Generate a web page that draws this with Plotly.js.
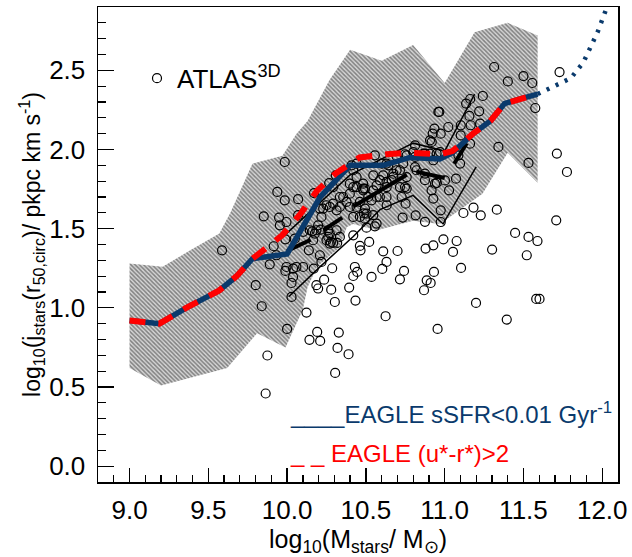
<!DOCTYPE html>
<html><head><meta charset="utf-8">
<script src="https://cdn.plot.ly/plotly-3.0.1.min.js"></script>
<style>html,body{margin:0;padding:0;background:#fff}#plot{width:632px;height:557px}</style>
</head><body><div id="plot"></div>
<script>
// ATLAS3D galaxies: log10(Mstars), log10(j_stars)
const atlasX = [9.587,9.985,9.938,9.985,10.070,9.852,9.949,9.996,9.801,9.839,10.000,9.875,9.864,9.915,9.890,9.932,9.989,9.996,9.989,10.038,10.059,10.102,10.028,10.038,10.028,10.138,10.161,10.186,10.214,10.171,10.208,10.267,10.309,10.292,10.261,10.278,10.292,10.318,10.261,10.208,10.218,10.169,10.286,10.186,10.197,10.235,10.280,10.303,10.394,10.434,10.123,10.191,10.142,10.210,10.328,10.320,10.390,10.305,10.420,10.430,10.420,10.445,10.466,10.462,10.521,10.504,10.494,10.536,10.610,10.631,10.604,10.701,10.742,10.716,10.625,10.879,10.932,10.886,10.911,10.869,10.955,10.992,11.076,11.053,11.104,11.199,11.301,11.394,11.447,11.532,11.589,11.521,11.581,11.602,11.708,11.712,11.532,11.341,11.331,11.229,11.183,11.119,11.072,11.098,10.975,10.975,10.816,10.733,10.568,10.557,10.752,10.748,10.917,10.928,11.028,11.002,10.939,10.822,10.812,10.865,10.928,10.907,10.924,10.975,11.023,11.102,11.102,11.165,11.225,11.161,11.087,10.557,10.695,10.420,10.441,10.398,10.441,10.483,10.547,10.610,10.674,10.695,10.631,10.568,10.483,10.515,10.568,10.631,10.716,10.759,10.462,10.441,10.398,10.494,10.504,10.462,10.420,10.377,10.335,10.292,10.314,10.250,10.218,10.398,10.547,10.631,10.441,10.600,10.759,10.737,10.409,10.642,10.748,10.801,10.875,10.949,10.918,10.960,10.875,10.716,10.494,10.420,10.356,10.335,10.536,10.589,10.632,10.589,10.674,10.727,10.632,10.547,10.487,10.271,10.229,10.197,10.271,10.314,10.335,10.250,10.144,10.102,10.176,10.165,10.271,10.049,10.070,9.954,10.875,10.928,11.314,11.401,11.500,11.556,11.575,11.729,11.776,11.242,11.162,11.136,11.219,11.157,10.935,10.966,10.812,10.971,10.907,10.812,10.875,10.950,10.759,10.664,10.483];
const atlasY = [1.363,1.921,1.732,1.679,1.686,1.578,1.570,1.542,1.143,1.010,0.867,0.699,0.459,1.389,1.275,1.332,1.433,1.258,1.233,1.248,1.258,1.258,1.157,1.195,1.069,1.363,1.483,1.490,1.494,1.725,1.627,1.788,1.837,1.763,1.448,1.416,1.410,1.410,1.490,1.332,1.290,1.248,1.250,1.143,1.122,1.178,1.115,1.037,1.128,1.046,0.970,0.848,0.798,0.791,0.844,0.747,0.707,0.589,1.458,1.258,1.201,1.227,1.363,1.391,1.416,1.506,1.563,1.195,1.357,1.290,1.246,1.359,1.233,1.180,0.947,1.374,1.227,1.174,1.157,1.111,0.867,1.433,1.422,1.353,1.252,1.031,1.368,0.926,1.473,1.448,1.422,1.332,1.056,1.056,1.553,1.974,1.915,2.016,1.620,1.584,1.633,1.599,1.816,1.911,1.616,1.542,1.584,1.570,1.532,1.515,1.658,1.763,1.742,1.690,1.742,1.805,1.784,1.869,1.953,1.974,1.932,2.058,2.100,2.100,2.142,2.089,2.153,2.153,2.163,2.037,1.963,1.963,1.957,1.869,1.826,1.784,1.763,1.784,1.837,1.837,1.847,1.869,1.795,1.774,1.742,1.700,1.700,1.700,1.763,1.753,1.669,1.637,1.637,1.627,1.595,1.574,1.574,1.669,1.700,1.658,1.616,1.648,1.574,1.721,1.742,1.911,1.911,1.911,1.826,1.911,1.900,1.900,1.970,1.984,1.974,1.974,2.048,2.237,1.806,1.869,1.753,1.763,1.700,1.637,1.679,1.700,1.763,1.806,1.827,1.700,1.648,1.585,1.596,1.637,1.627,1.521,1.469,1.490,1.448,1.427,1.490,1.480,1.469,1.427,1.406,1.437,1.585,1.521,1.543,1.395,2.521,2.430,2.464,2.420,2.262,2.489,1.858,2.338,2.319,2.290,2.241,2.212,2.132,2.237,2.026,1.984,1.974,1.889,1.848,1.789,1.963,1.806,1.753];

// EAGLE scatter band (upper and lower edges)
const bandUpperX = [9.0,9.21,9.38,9.57,9.64,9.78,9.97,10.06,10.13,10.27,10.40,10.60,10.80,11.00,11.19,11.40,11.59];
const bandUpperY = [1.28,1.26,1.36,1.47,1.60,1.91,1.96,2.10,2.18,2.44,2.63,2.56,2.66,2.42,2.74,2.80,2.72];
const bandLowerX = [9.0,9.20,9.62,9.81,9.99,10.10,10.13,10.19,10.33,10.38,10.42,10.57,10.80,10.97,11.24,11.40,11.59];
const bandLowerY = [0.62,0.51,0.62,0.84,0.75,0.99,1.13,1.26,1.38,1.51,1.53,1.49,1.55,1.53,1.72,1.98,1.79];

// EAGLE sSFR<0.01 Gyr^-1 median
const blueX = [9.0,9.19,9.36,9.57,9.68,9.78,10.0,10.12,10.21,10.40,10.61,10.78,10.97,11.05,11.18,11.29,11.38,11.48,11.59];
const blueY = [0.92,0.90,1.00,1.11,1.20,1.31,1.34,1.55,1.70,1.90,1.90,1.95,1.94,1.98,2.10,2.18,2.29,2.32,2.35];
const blueExtX = [11.59,11.70,11.80,11.88,11.97,12.03];
const blueExtY = [2.35,2.40,2.45,2.55,2.74,2.90];

// EAGLE (u*-r*)>2 median
const redX = [9.0,9.19,9.36,9.57,9.68,9.78,9.87,9.97,10.09,10.19,10.31,10.46,10.63,10.78,10.97,11.05,11.18,11.29,11.38,11.48,11.59];
const redY = [0.92,0.90,1.00,1.11,1.20,1.31,1.38,1.46,1.60,1.74,1.85,1.95,1.97,1.98,1.97,1.99,2.10,2.18,2.29,2.32,2.35];

// thin black observational relations
const thinAX = [10.01,10.21,10.42,10.59,10.80,10.99,11.20];
const thinAY = [1.07,1.26,1.45,1.62,1.71,1.53,1.89];
const thinBX = [9.975,10.40,10.80,11.00,11.19];
const thinBY = [1.45,1.84,2.04,1.99,2.35];
// thick black short segments
const thickX = [10.0,10.15,null,10.23,10.35,null,10.42,10.76,null,10.82,11.0,null,11.06,11.14];
const thickY = [1.36,1.43,null,1.49,1.57,null,1.64,1.84,null,1.86,1.82,null,1.91,2.04];

const xRange = [8.8,12.1];
const yRange = [-0.1,2.9];

const F = 'Liberation Sans, Arial, sans-serif';
const navy = '#0a3a6c';

const traces = [
  {x: bandUpperX.concat(bandLowerX.slice().reverse()), y: bandUpperY.concat(bandLowerY.slice().reverse()),
   mode:'lines', fill:'toself', line:{width:0, color:'rgba(0,0,0,0)'},
   fillcolor:'#c4c4c4', fillpattern:{shape:'\\', size:3, solidity:0.5, fgcolor:'#808080', bgcolor:'#d6d6d6'},
   showlegend:false, hoverinfo:'skip'},
  {x: atlasX, y: atlasY, mode:'markers', name:'ATLAS<sup>3D</sup>',
   marker:{symbol:'circle-open', size:9, color:'#000', line:{width:1.2, color:'#000'}}, showlegend:true},
  {x: thinAX, y: thinAY, mode:'lines', line:{color:'#000', width:1.5}, showlegend:false},
  {x: thinBX, y: thinBY, mode:'lines', line:{color:'#000', width:1.5}, showlegend:false},
  {x: thickX, y: thickY, mode:'lines', line:{color:'#000', width:4}, connectgaps:false, showlegend:false},
  {x: blueX, y: blueY, mode:'lines', line:{color:navy, width:5.5}, showlegend:false},
  {x: blueExtX, y: blueExtY, mode:'lines', line:{color:navy, width:4.5, dash:'3px,7px'}, showlegend:false},
  {x: redX, y: redY, mode:'lines', line:{color:'#ff0000', width:6, dash:'16px,13px'}, showlegend:false}
];

const tickStyle = {ticks:'inside', tickcolor:'#000', tickwidth:1.3};

const layout = {
  width:632, height:557,
  margin:{l:98, r:14, t:7, b:75},
  paper_bgcolor:'#fff', plot_bgcolor:'#fff',
  font:{family:F, color:'#000'},
  xaxis: Object.assign({}, tickStyle, {
    range:xRange, tick0:9, dtick:0.5, ticklen:14, tickformat:'.1f',
    showgrid:false, zeroline:false, showline:true, linecolor:'#000', linewidth:1.5, mirror:true,
    tickfont:{family:F, size:26, color:'#000'}, ticklabelstandoff:4,
    minor:{dtick:0.1, tick0:9, ticks:'inside', ticklen:7, tickcolor:'#000', tickwidth:1.3, showgrid:false},
    title:{text:'log<sub>10</sub>(M<sub>stars</sub>/ M<sub>⊙</sub>)', font:{family:F, size:25, color:'#000'}, standoff:4}
  }),
  yaxis: Object.assign({}, tickStyle, {
    range:yRange, tick0:0, dtick:0.5, ticklen:16, tickformat:'.1f',
    showgrid:false, zeroline:false, showline:true, linecolor:'#000', linewidth:1.5, mirror:true,
    tickfont:{family:F, size:26, color:'#000'}, ticklabelstandoff:6,
    minor:{dtick:0.1, tick0:0, ticks:'inside', ticklen:8, tickcolor:'#000', tickwidth:1.3, showgrid:false},
    title:{text:'log<sub>10</sub>(j<sub>stars</sub>(r<sub>50,circ</sub>)/ pkpc km s<sup>-1</sup>)', font:{family:F, size:23, color:'#000'}, standoff:2}
  }),
  xaxis2: Object.assign({}, tickStyle, {
    overlaying:'x', side:'top', anchor:'y', range:xRange, tick0:9, dtick:0.5, ticklen:14,
    showticklabels:false, showgrid:false, zeroline:false, showline:false,
    minor:{dtick:0.1, tick0:9, ticks:'inside', ticklen:7, tickcolor:'#000', tickwidth:1.3, showgrid:false}
  }),
  yaxis2: Object.assign({}, tickStyle, {
    overlaying:'y', side:'right', anchor:'x', range:yRange, tick0:0, dtick:0.5, ticklen:16,
    showticklabels:false, showgrid:false, zeroline:false, showline:false,
    minor:{dtick:0.1, tick0:0, ticks:'inside', ticklen:8, tickcolor:'#000', tickwidth:1.3, showgrid:false}
  }),
  showlegend:true,
  legend:{x:0.075, y:0.85, xanchor:'left', yanchor:'middle', bgcolor:'rgba(0,0,0,0)',
          font:{family:F, size:26, color:'#000'}, itemwidth:30},
  annotations:[
    {xref:'paper', yref:'paper', x:0.365, y:0.145, xanchor:'left', yanchor:'middle', showarrow:false,
     text:'____EAGLE sSFR<0.01 Gyr<sup>-1</sup>', font:{family:F, size:24, color:navy}},
    {xref:'paper', yref:'paper', x:0.365, y:0.061, xanchor:'left', yanchor:'middle', showarrow:false,
     text:'_ _ EAGLE (u*-r*)>2', font:{family:F, size:24, color:'#ff0000'}}
  ]
};

Plotly.newPlot('plot', traces, layout, {staticPlot:true, displayModeBar:false});
</script></body></html>
